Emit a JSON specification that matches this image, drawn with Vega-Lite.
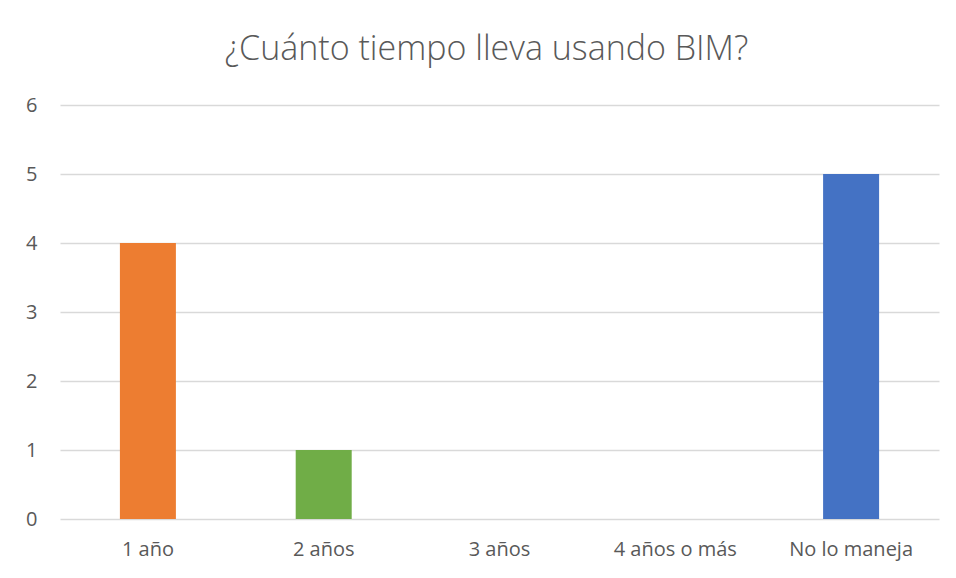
{
  "$schema": "https://vega.github.io/schema/vega-lite/v6.json",
  "width": 879,
  "height": 414,
  "autosize": {"type": "none"},
  "padding": {"left": 60, "top": 105, "right": 17, "bottom": 59},
  "background": "white",
  "title": {
    "text": "¿Cuánto tiempo lleva usando BIM?",
    "font": "Open Sans",
    "fontSize": 34,
    "fontWeight": 300,
    "color": "#595959",
    "anchor": "middle",
    "baseline": "alphabetic",
    "offset": 1,
    "dx": -13
  },
  "data": {
    "values": [
      {"categoria": "1 año", "valor": 4},
      {"categoria": "2 años", "valor": 1},
      {"categoria": "3 años", "valor": 0},
      {"categoria": "4 años o más", "valor": 0},
      {"categoria": "No lo maneja", "valor": 5}
    ]
  },
  "mark": {"type": "bar", "size": 56},
  "encoding": {
    "x": {
      "field": "categoria",
      "type": "nominal",
      "sort": null,
      "scale": {"paddingInner": 0, "paddingOuter": 0},
      "axis": {
        "title": null,
        "labelAngle": 0,
        "labelFont": "Open Sans",
        "labelFontSize": 20,
        "labelColor": "#595959",
        "labelPadding": 20,
        "ticks": false,
        "domain": false,
        "grid": false
      }
    },
    "y": {
      "field": "valor",
      "type": "quantitative",
      "scale": {"domain": [0, 6], "nice": false},
      "axis": {
        "title": null,
        "values": [0, 1, 2, 3, 4, 5, 6],
        "labelFont": "Open Sans",
        "labelFontSize": 20,
        "labelColor": "#595959",
        "labelPadding": 23,
        "ticks": false,
        "domain": false,
        "grid": true,
        "gridColor": "#D9D9D9",
        "gridWidth": 1.3
      }
    },
    "color": {
      "field": "categoria",
      "type": "nominal",
      "sort": null,
      "scale": {
        "domain": ["1 año", "2 años", "3 años", "4 años o más", "No lo maneja"],
        "range": ["#ED7D31", "#70AD47", "#A5A5A5", "#FFC000", "#4472C4"]
      },
      "legend": null
    }
  },
  "config": {"view": {"stroke": null}}
}
